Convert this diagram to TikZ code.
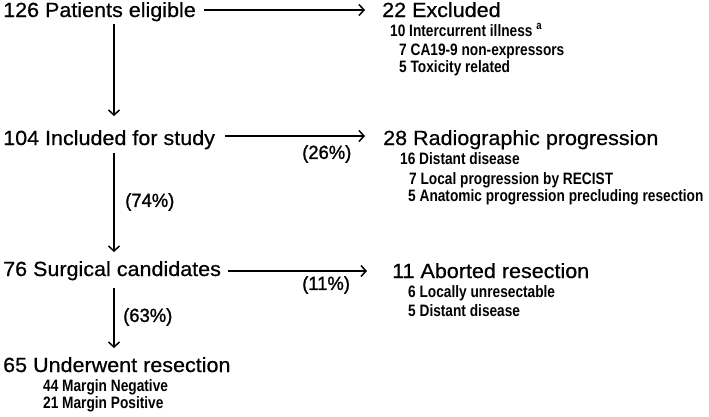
\documentclass[tikz,border=0pt]{standalone}
\usepackage{fontspec}
\setmainfont{Liberation Sans}
\newfontfamily\mainf{Liberation Sans}[FakeStretch=1.05, FakeBold=0.6]
\newfontfamily\subfont{Liberation Sans}[FakeStretch=0.83]
\newfontfamily\pctfont{Liberation Sans}[FakeStretch=0.97, FakeBold=1.2]
\usetikzlibrary{arrows.meta}
\tikzset{
  main/.style={anchor=base west, inner sep=0pt, font=\mainf\fontsize{20.5}{21}\selectfont},
  sub/.style={anchor=base west, inner sep=0pt, font=\subfont\bfseries\fontsize{16.5}{17}\selectfont},
  pct/.style={anchor=west, inner sep=0pt, font=\pctfont\fontsize{19}{20}\selectfont},
  arr/.style={line width=1.5pt, -{Straight Barb[length=5pt,width=11pt,line width=1.5pt]}}
}
\begin{document}
\begin{tikzpicture}[x=1pt,y=-1pt]
\useasboundingbox[fill=white] (0,0) rectangle (709,416);
% main column
\node[main] (n126) at (3,17) {126 Patients eligible};
\node[main] (n104) at (3,145) {104 Included for study};
\node[main] (n76) at (3,276) {76 Surgical candidates};
\node[main] (n65) at (3,372) {65 Underwent resection};
\node[sub] (m44) at (43,391) {44 Margin Negative};
\node[sub] (m21) at (43,408) {21 Margin Positive};
% excluded
\node[main] (n22) at (382,17) {22 Excluded};
\node[sub] (e10) at (390,36) {10 Intercurrent illness \textsuperscript{a}};
\node[sub] (e7) at (399,55) {7 CA19-9 non-expressors};
\node[sub] (e5) at (399,72.7) {5 Toxicity related};
% progression
\node[main] (n28) at (383,145) {28 Radiographic progression};
\node[sub] (p16) at (400,164) {16 Distant disease};
\node[sub] (p7) at (409,184) {7 Local progression by RECIST};
\node[sub] (p5) at (408,201.7) {5 Anatomic progression precluding resection};
% aborted
\node[main] (n11) at (392,278) {11 Aborted resection};
\node[sub] (a6) at (408,297) {6 Locally unresectable};
\node[sub] (a5) at (408,316) {5 Distant disease};
% percentages
\node[pct] (p26) at (302,154) {(26\%)};
\node[pct] (p74) at (125,202) {(74\%)};
\node[pct] (p11) at (302,285) {(11\%)};
\node[pct] (p63) at (123,317) {(63\%)};
% horizontal arrows
\draw[arr] ([xshift=8pt,yshift=7pt]n126.base east) -- ([xshift=-17pt,yshift=7pt]n22.base west);
\draw[arr] ([xshift=10pt,yshift=9pt]n104.base east) -- ([xshift=-18pt,yshift=9pt]n28.base west);
\draw[arr] ([xshift=7pt,yshift=5pt]n76.base east) -- ([xshift=-25pt,yshift=7pt]n11.base west);
% vertical arrows
\draw[arr] ([xshift=111pt,yshift=-7pt]n126.base west) -- ([xshift=111pt,yshift=29pt]n104.base west);
\draw[arr] ([xshift=111pt,yshift=-8pt]n104.base west) -- ([xshift=111pt,yshift=24pt]n76.base west);
\draw[arr] ([xshift=111pt,yshift=-12pt]n76.base west) -- ([xshift=111pt,yshift=24pt]n65.base west);
\end{tikzpicture}
\end{document}
